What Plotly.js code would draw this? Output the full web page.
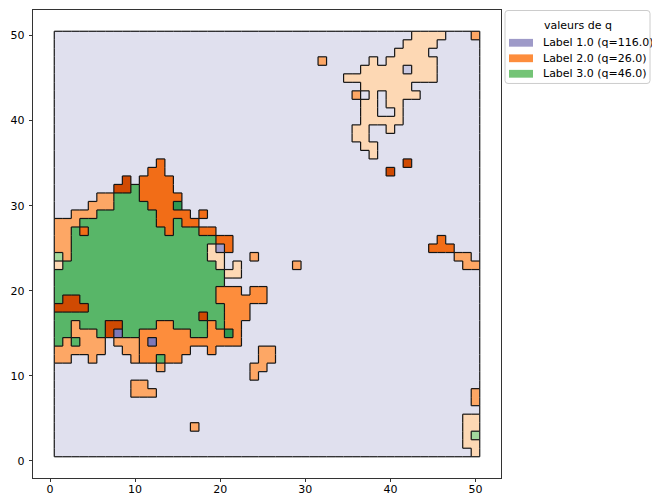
<!DOCTYPE html>
<html><head><meta charset="utf-8">
<script src="https://cdn.plot.ly/plotly-3.0.1.min.js"></script>
<style>html,body{margin:0;padding:0;background:#fff}</style>
</head><body><div id="chart" style="width:652px;height:494px"></div>
<script>
// grid rows from y=50 (top) down to y=1, columns x=1..50
const D = '..........';
const rows = [
 D+D+D+D+'..aaaa...b',
 D+D+D+D+'.aaaa.....',
 D+D+D+D+'aaaa......',
 D+D+D+'.b.....a.a'+'aaaaa.....',
 D+D+D+'......aaaa'+'alaaa.....',
 D+D+D+'....aaaaaa'+'aaaaa.....',
 D+D+D+'......aaaa'+'aa........',
 D+D+D+'.....b.a.a'+'aaa.......',
 D+D+D+'......aa.a'+'a.........',
 D+D+D+'......aa..'+'a.........',
 D+D+D+'......aaaa'+'a.........',
 D+D+D+'.....aa..a'+D,
 D+D+D+'.....aa...'+D,
 D+D+D+'......aa..'+D,
 D+D+D+'.......a..'+D,
 D+'..c.......'+D+D+'.d........',
 D+'.cc.......'+D+'.........d'+D,
 '........d.'+'cccc......'+D+D+D,
 '.......ddg'+'cccc......'+D+D+D,
 '.....bbggg'+'ccccc.....'+D+D+D,
 '....bbbggg'+'gcccG.....'+D+D+D,
 '..bbbggggg'+'ggcccc.c..'+D+D+D,
 'bbbggggggg'+'ggccgcc...'+D+D+D,
 'bbgcgggggg'+'gggcgggcc.'+D+D+D,
 'bbgggggggg'+'gggggggggc'+'c.........'+D+'.....c....',
 'bbgggggggg'+'ggggggggap'+'c.........'+D+'....ccc...',
 'hbgggggggg'+'ggggggggaa'+'...b......'+D+'.......bb.',
 'aggggggggg'+'ggggggggga'+'.a......b.'+D+'........bb',
 'gggggggggg'+'gggggggggg'+'aa........'+D+D,
 'gggggggggg'+'gggggggggg'+D+D+D,
 'gggggggggg'+'gggggggggo'+'oo.oo.....'+D+D,
 'gddggggggg'+'gggggggggo'+'ooooo.....'+D+D,
 'ddddgggggg'+'gggggggggg'+'ooo.......'+D+D,
 'gggggggggg'+'gggggggdgg'+'ooo.......'+D+D,
 'ggbgggddgg'+'ggooggggog'+'oo........'+D+D,
 'ggbbbgdPgg'+'ooooooggoo'+'Go........'+D+D,
 'gbgbbb.bbb'+'oPoooooooo'+'oo........'+D+D,
 'bbbbbb..bb'+'oooooo..o.'+'....bb....'+D+D,
 'bb..b....b'+'oogoo.....'+'....bb....'+D+D,
 D+'..b.......'+'...bb.....'+D+D,
 D+D+'...b......'+D+D,
 '.........b'+'b.........'+D+D+D,
 '.........b'+'bb........'+D+D+'.........b',
 D+D+D+D+'.........b',
 D+D+D+D+D,
 D+D+D+D+'........aa',
 D+'......b...'+D+D+'........aa',
 D+D+D+D+'........ah',
 D+D+D+D+'........aa',
 D+D+D+D+'.........a'
];
const codes      = ['.',       'l',       'p',       'P',       'a',       'b',       'o',       'c',       'd',       'h',       'g',       'G'];
const codeColors = ['#e0e0ee', '#c9c9e2', '#a29ecb', '#7d78b8', '#fdd8b4', '#fda765', '#fd8d3c', '#f26d17', '#d04a02', '#a3d99d', '#58b668', '#2f9952'];
const legendLabels = ['Label 1.0 (q=116.0)', 'Label 2.0 (q=26.0)', 'Label 3.0 (q=46.0)'];
const legendColors = ['#9e9ac8', '#fd8d3c', '#74c476'];
const legendTitle = 'valeurs de q';
const xTicks = [0, 10, 20, 30, 40, 50];
const yTicks = [0, 10, 20, 30, 40, 50];

const grid = rows.slice();
grid.forEach((r, k) => { if (r.length !== 50) console.error('row', k, r.length); });
const nR = grid.length, nC = grid[0].length;
const gridAsc = grid.slice().reverse(); // y = 1..50
const xVals = Array.from({length: nC}, (_, i) => i + 1);
const yVals = Array.from({length: nR}, (_, i) => i + 1);
const z = gridAsc.map(r => [...r].map(ch => codes.indexOf(ch)));
const n = codes.length;
const colorscale = [];
codeColors.forEach((c, k) => { colorscale.push([k / n, c]); colorscale.push([(k + 1) / n, c]); });

// region outlines: edges between cells of different category and the outer border
const ex = [], ey = [];
function seg(x0, y0, x1, y1) { ex.push(x0, x1, null); ey.push(y0, y1, null); }
for (let r = 0; r < nR; r++) {
  for (let c = 0; c < nC; c++) {
    const v = gridAsc[r][c], x = xVals[c], y = yVals[r];
    if (c === nC - 1 || gridAsc[r][c + 1] !== v) seg(x + 0.5, y - 0.5, x + 0.5, y + 0.5);
    if (c === 0) seg(x - 0.5, y - 0.5, x - 0.5, y + 0.5);
    if (r === nR - 1 || gridAsc[r + 1][c] !== v) seg(x - 0.5, y + 0.5, x + 0.5, y + 0.5);
    if (r === 0) seg(x - 0.5, y - 0.5, x + 0.5, y - 0.5);
  }
}

const traces = [
  {type: 'heatmap', x: xVals, y: yVals, z: z, zmin: -0.5, zmax: n - 0.5, colorscale: colorscale,
   showscale: false, hoverinfo: 'skip', showlegend: false, zsmooth: false},
  {type: 'scatter', mode: 'lines', x: ex, y: ey, line: {color: '#151515', width: 1.2},
   hoverinfo: 'skip', showlegend: false, connectgaps: false}
];

// page geometry (px) and conversion to paper coordinates
const M = {l: 33, r: 151, t: 9.5, b: 16.3};
const PW = 652 - M.l - M.r, PH = 494 - M.t - M.b;
const px = v => (v - M.l) / PW;
const py = v => 1 - (v - M.t) / PH;

// legend drawn as a framed box with colour patches and text
const box = {x0: 505, x1: 650, y0: 10, y1: 83, r: 3};
const shapes = [];
const annotations = [];
{
  const {x0, x1, y0, y1, r} = box;
  const P = (x, y) => px(x) + ',' + py(y);
  const rx = r / PW, ry = r / PH;
  const path = 'M' + P(x0 + r, y0) + ' L' + P(x1 - r, y0) +
    ' Q' + P(x1, y0) + ' ' + P(x1, y0 + r) + ' L' + P(x1, y1 - r) +
    ' Q' + P(x1, y1) + ' ' + P(x1 - r, y1) + ' L' + P(x0 + r, y1) +
    ' Q' + P(x0, y1) + ' ' + P(x0, y1 - r) + ' L' + P(x0, y0 + r) +
    ' Q' + P(x0, y0) + ' ' + P(x0 + r, y0) + ' Z';
  shapes.push({type: 'path', xref: 'paper', yref: 'paper', path: path,
    fillcolor: 'rgba(255,255,255,0.85)', line: {color: '#cccccc', width: 1}, layer: 'above'});
  annotations.push({xref: 'paper', yref: 'paper', x: px((x0 + x1) / 2), y: py(25), text: legendTitle,
    showarrow: false, xanchor: 'center', yanchor: 'middle',
    font: {family: 'DejaVu Sans', size: 11, color: '#000'}});
  const rowY = [42.3, 57.8, 73.3];
  legendLabels.forEach((lab, k) => {
    shapes.push({type: 'rect', xref: 'paper', yref: 'paper', x0: px(509), x1: px(533),
      y0: py(rowY[k] - 3.9), y1: py(rowY[k] + 3.9), fillcolor: legendColors[k],
      line: {width: 0}, layer: 'above'});
    annotations.push({xref: 'paper', yref: 'paper', x: px(541), y: py(rowY[k]), text: lab,
      showarrow: false, xanchor: 'left', yanchor: 'middle',
      font: {family: 'DejaVu Sans', size: 11, color: '#000'}});
  });
}

const axisBase = {range: [-2, 53], ticks: 'outside', ticklen: 3.5, tickwidth: 0.8, tickcolor: '#000',
  showline: true, mirror: true, linecolor: '#000', linewidth: 0.8, showgrid: false, zeroline: false,
  tickfont: {family: 'DejaVu Sans', size: 11, color: '#000'}, fixedrange: true, automargin: false};

const layout = {
  width: 652, height: 494,
  margin: {l: M.l, r: M.r, t: M.t, b: M.b, pad: 0, autoexpand: false},
  paper_bgcolor: '#ffffff', plot_bgcolor: '#ffffff',
  font: {family: 'DejaVu Sans', size: 11, color: '#000'},
  xaxis: Object.assign({}, axisBase, {tickvals: xTicks, ticklabelstandoff: -3}),
  yaxis: Object.assign({}, axisBase, {tickvals: yTicks, ticklabelstandoff: 2}),
  showlegend: false,
  shapes: shapes,
  annotations: annotations
};
Plotly.newPlot('chart', traces, layout, {displayModeBar: false, staticPlot: true});
</script></body></html>
